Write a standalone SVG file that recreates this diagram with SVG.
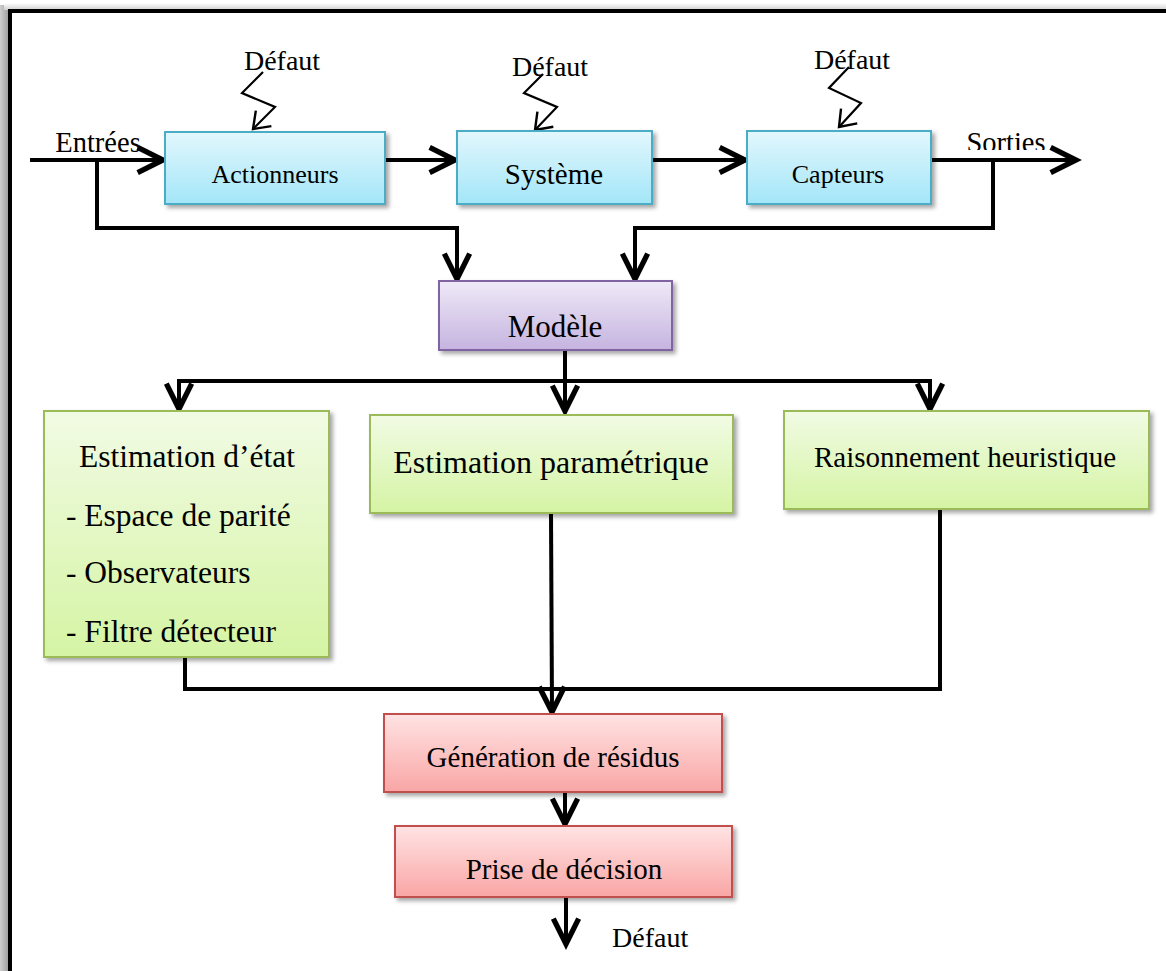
<svg xmlns="http://www.w3.org/2000/svg" width="1166" height="971" viewBox="0 0 1166 971">
  <style>
    text { font-family: "Liberation Serif", "Times New Roman", serif; fill: #000; }
    .c { text-anchor: middle; }
    .wire { fill: none; stroke: #000; stroke-width: 4; stroke-linejoin: miter; }
    .bolt { fill: none; stroke: #000; stroke-width: 2.2; stroke-linejoin: miter; }
    .blue { fill: url(#gBlue); stroke: #4bacc6; stroke-width: 2; filter: url(#shadow); }
    .purple { fill: url(#gPurple); stroke: #8064a2; stroke-width: 2; filter: url(#shadow); }
    .green { fill: url(#gGreen); stroke: #9bbb59; stroke-width: 2; filter: url(#shadow); }
    .red { fill: url(#gRed); stroke: #c0504d; stroke-width: 2; filter: url(#shadow); }
  </style>
  <defs>
    <linearGradient id="gBlue" x1="0" y1="0" x2="0" y2="1">
      <stop offset="0" stop-color="#e2f7fd"/>
      <stop offset="1" stop-color="#a3e6f8"/>
    </linearGradient>
    <linearGradient id="gPurple" x1="0" y1="0" x2="0" y2="1">
      <stop offset="0" stop-color="#efe9f7"/>
      <stop offset="1" stop-color="#c5b4e0"/>
    </linearGradient>
    <linearGradient id="gGreen" x1="0" y1="0" x2="0" y2="1">
      <stop offset="0" stop-color="#f1fbe4"/>
      <stop offset="1" stop-color="#d5f4a4"/>
    </linearGradient>
    <linearGradient id="gRed" x1="0" y1="0" x2="0" y2="1">
      <stop offset="0" stop-color="#ffe3e3"/>
      <stop offset="1" stop-color="#f9a6a5"/>
    </linearGradient>
    <linearGradient id="gFrameLeft" x1="0" y1="0" x2="1" y2="0">
      <stop offset="0" stop-color="#cfcfcf"/>
      <stop offset="1" stop-color="#9c9c9c"/>
    </linearGradient>
    <linearGradient id="gFrameTop" x1="0" y1="0" x2="0" y2="1">
      <stop offset="0" stop-color="#ffffff"/>
      <stop offset="1" stop-color="#cfcfcf"/>
    </linearGradient>
    <filter id="shadow" x="-10%" y="-10%" width="125%" height="135%">
      <feDropShadow dx="3" dy="3" stdDeviation="2" flood-color="#000" flood-opacity="0.35"/>
    </filter>
    <marker id="arrow" markerUnits="userSpaceOnUse" orient="auto" refX="0" refY="0" markerWidth="40" markerHeight="40" viewBox="-25 -15 30 30" overflow="visible">
      <path d="M-19,-9.5 L0,0 L-19,9.5" fill="none" stroke="#000" stroke-width="4"/>
    </marker>
    <marker id="boltArrow" markerUnits="userSpaceOnUse" orient="auto" refX="0" refY="0" markerWidth="30" markerHeight="30" viewBox="-20 -15 25 30" overflow="visible">
      <path d="M-15,-11 L0,0 L-15,11" fill="none" stroke="#000" stroke-width="2.4"/>
    </marker>
    <clipPath id="clipSorties">
      <rect x="940" y="100" width="140" height="50"/>
    </clipPath>
  </defs>

  <rect width="1166" height="971" fill="#ffffff"/>

  <!-- outer frame with its shadow -->
  <g id="frame">
    <rect x="0" y="5" width="9" height="966" fill="url(#gFrameLeft)"/>
    <rect x="4" y="3" width="1162" height="7" fill="url(#gFrameTop)"/>
    <rect x="10" y="11" width="1200" height="1000" fill="none" stroke="#000" stroke-width="4"/>
  </g>

  <!-- connectors -->
  <g id="connectors">
    <!-- main signal chain -->
    <path class="wire" d="M30,160 L163,160" marker-end="url(#arrow)"/>
    <path class="wire" d="M385,160 L455,160" marker-end="url(#arrow)"/>
    <path class="wire" d="M652,160 L745,160" marker-end="url(#arrow)"/>
    <path class="wire" d="M931,160 L1076,160" marker-end="url(#arrow)"/>
    <!-- inputs and outputs to the model -->
    <path class="wire" d="M97,160 L97,228 L457,228 L457,279" marker-end="url(#arrow)"/>
    <path class="wire" d="M993,160 L993,228 L635,228 L635,279" marker-end="url(#arrow)"/>
    <!-- model to the three methods -->
    <path class="wire" d="M565,350 L565,411" marker-end="url(#arrow)"/>
    <path class="wire" d="M565,381 L179,381 L179,409" marker-end="url(#arrow)"/>
    <path class="wire" d="M565,381 L930,381 L930,409" marker-end="url(#arrow)"/>
    <!-- methods to residual generation -->
    <path class="wire" d="M185,657 L185,689 L940,689 L940,509"/>
    <path class="wire" d="M551,513 L552,712" marker-end="url(#arrow)"/>
    <!-- residuals to decision -->
    <path class="wire" d="M565,792 L565,824" marker-end="url(#arrow)"/>
    <path class="wire" d="M566,897 L566,944" marker-end="url(#arrow)"/>
    <!-- fault inputs -->
    <path class="bolt" d="M263,72 L242,93 L275,107 L253,129" marker-end="url(#boltArrow)"/>
    <path class="bolt" d="M543,74 L524,93 L557,107 L535,130" marker-end="url(#boltArrow)"/>
    <path class="bolt" d="M849,67 L829,88 L861,103 L839,127" marker-end="url(#boltArrow)"/>
  </g>

  <!-- free labels -->
  <g id="labels">
    <text class="c" x="282" y="70" font-size="28">Défaut</text>
    <text class="c" x="550" y="76" font-size="28">Défaut</text>
    <text class="c" x="852" y="69" font-size="28">Défaut</text>
    <text class="c" x="98" y="152" font-size="28.5">Entrées</text>
    <text class="c" x="1006" y="152" font-size="28.5" clip-path="url(#clipSorties)">Sorties</text>
    <text x="612" y="947" font-size="28">Défaut</text>
  </g>

  <g id="actionneurs">
    <rect class="blue" x="165" y="132" width="220" height="72"/>
    <text class="c" x="275" y="183" font-size="26">Actionneurs</text>
  </g>
  <g id="systeme">
    <rect class="blue" x="457" y="131" width="195" height="73"/>
    <text class="c" x="554" y="184" font-size="29">Système</text>
  </g>
  <g id="capteurs">
    <rect class="blue" x="747" y="131" width="184" height="73"/>
    <text class="c" x="838" y="183" font-size="26">Capteurs</text>
  </g>
  <g id="modele">
    <rect class="purple" x="439" y="281" width="233" height="69"/>
    <text class="c" x="555" y="337" font-size="31">Modèle</text>
  </g>
  <g id="estimation-etat">
    <rect class="green" x="44" y="411" width="285" height="246"/>
    <text class="c" x="187" y="467" font-size="31.5">Estimation d’état</text>
    <text x="66" y="526" font-size="31.5">- Espace de parité</text>
    <text x="66" y="583" font-size="31.5">- Observateurs</text>
    <text x="66" y="642" font-size="31.5">- Filtre détecteur</text>
  </g>
  <g id="estimation-parametrique">
    <rect class="green" x="370" y="415" width="363" height="98"/>
    <text class="c" x="551" y="473" font-size="32">Estimation paramétrique</text>
  </g>
  <g id="raisonnement">
    <rect class="green" x="784" y="411" width="365" height="98"/>
    <text class="c" x="965" y="467" font-size="29">Raisonnement heuristique</text>
  </g>
  <g id="generation-residus">
    <rect class="red" x="384" y="714" width="338" height="78"/>
    <text class="c" x="553" y="767" font-size="29">Génération de résidus</text>
  </g>
  <g id="prise-decision">
    <rect class="red" x="395" y="826" width="337" height="71"/>
    <text class="c" x="564" y="879" font-size="29">Prise de décision</text>
  </g>
</svg>
